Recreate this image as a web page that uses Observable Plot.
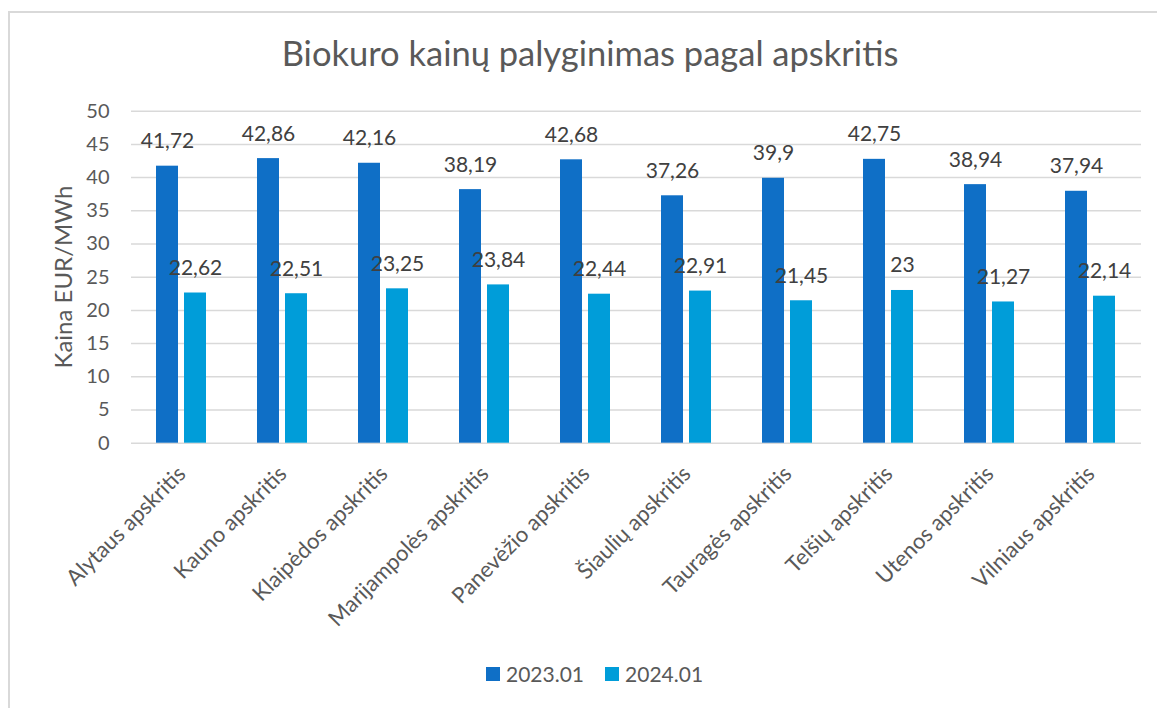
<!DOCTYPE html>
<html>
<head>
<meta charset="utf-8">
<script src="https://cdn.jsdelivr.net/npm/d3@7"></script>
<script src="https://cdn.jsdelivr.net/npm/@observablehq/plot@0.6"></script>
<style>
  html, body { margin: 0; padding: 0; background: #fff; }
  #wrap { position: relative; width: 1157px; height: 708px; overflow: hidden; font-family: Lato, "Open Sans", sans-serif; }
  #border { position: absolute; left: 8px; top: 11px; right: -10px; bottom: -10px; border-top: 2px solid #d9d9d9; border-left: 2px solid #d9d9d9; }
  #title { position: absolute; left: 0; width: 1180px; top: 32px; text-align: center; font-size: 34.5px; color: #595959; white-space: nowrap; }
  #ylabel { position: absolute; left: 62px; top: 277px; transform: translate(-50%, -50%) rotate(-90deg); font-size: 24px; color: #595959; white-space: nowrap; }
  #chart { position: absolute; left: 0; top: 0; }
  #legend { position: absolute; top: 661px; left: 486px; display: flex; align-items: center; font-size: 21px; color: #595959; }
  .sw { width: 14px; height: 14px; display: inline-block; margin-right: 6px; }
  .item { display: flex; align-items: center; margin-right: 21px; }
</style>
</head>
<body>
<div id="wrap">
  <div id="border"></div>
  <div id="title">Biokuro kainų palyginimas pagal apskritis</div>
  <div id="chart"></div>
  <div id="ylabel"></div>
  <div id="legend"></div>
</div>
<script>
const regions = ["Alytaus apskritis", "Kauno apskritis", "Klaipėdos apskritis", "Marijampolės apskritis", "Panevėžio apskritis", "Šiaulių apskritis", "Tauragės apskritis", "Telšių apskritis", "Utenos apskritis", "Vilniaus apskritis"];
const series = ["2023.01", "2024.01"];
const values2023 = [41.72, 42.86, 42.16, 38.19, 42.68, 37.26, 39.9, 42.75, 38.94, 37.94];
const values2024 = [22.62, 22.51, 23.25, 23.84, 22.44, 22.91, 21.45, 23, 21.27, 22.14];
const yTicks = [0, 5, 10, 15, 20, 25, 30, 35, 40, 45, 50];
const yLabel = "Kaina EUR/MWh";
const colors = ["#0F6FC6", "#009DD9"];

const data = [];
regions.forEach((r, i) => {
  data.push({region: r, series: series[0], value: values2023[i]});
  data.push({region: r, series: series[1], value: values2024[i]});
});
const fmt = v => String(v).replace(".", ",");

const chart = Plot.plot({
  width: 1157,
  height: 640,
  marginTop: 110.7,
  marginBottom: 197.3,
  marginLeft: 129,
  marginRight: 15,
  style: {fontFamily: "Lato, 'Open Sans', sans-serif", fontSize: "20px", color: "#595959", background: "transparent"},
  fx: {domain: regions, paddingInner: 0, paddingOuter: 0, label: null, axis: null},
  x: {domain: series, paddingInner: 0.209, paddingOuter: 0.869, axis: null},
  y: {domain: [0, 50], axis: null},
  color: {domain: series, range: colors},
  marks: [
    Plot.gridY(yTicks, {stroke: "#d9d9d9", strokeOpacity: 1, strokeWidth: 1.5}),
    Plot.barY(data, {fx: "region", x: "series", y: "value", fill: "series"}),
    Plot.text(data, {fx: "region", x: "series", y: "value", text: d => fmt(d.value), dy: -18, lineAnchor: "bottom", fill: "#404040", fontSize: 21}),
    Plot.axisY({ticks: yTicks, tickSize: 0, tickPadding: 22, fontSize: 20, facetAnchor: "left", label: null}),
    Plot.axisFx({anchor: "bottom", tickRotate: -45, tickSize: 0, tickPadding: 27, label: null, fontSize: 22})
  ]
});
document.getElementById("chart").appendChild(chart);
document.getElementById("ylabel").textContent = yLabel;

const legend = document.getElementById("legend");
series.forEach((s, i) => {
  const it = document.createElement("div");
  it.className = "item";
  const sw = document.createElement("span");
  sw.className = "sw";
  sw.style.background = colors[i];
  it.appendChild(sw);
  const t = document.createElement("span");
  t.textContent = s;
  it.appendChild(t);
  legend.appendChild(it);
});
</script>
</body>
</html>
